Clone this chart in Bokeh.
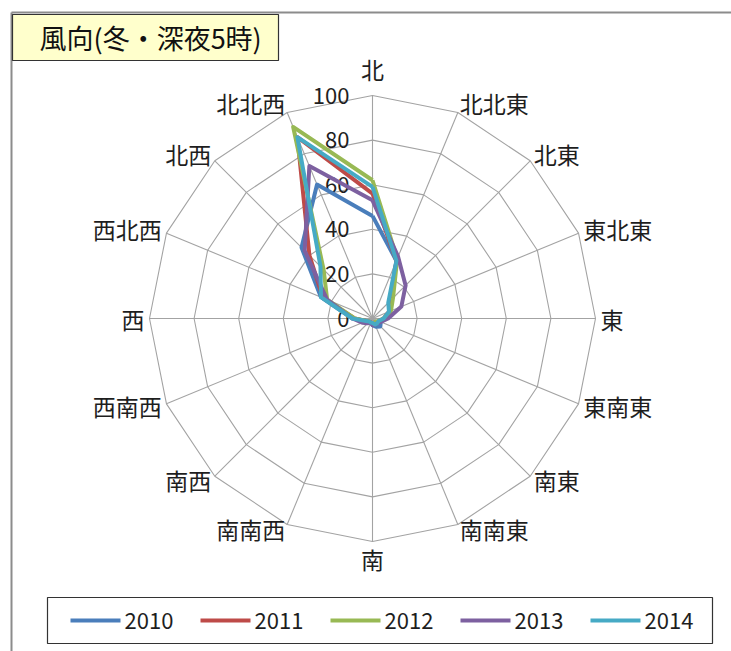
import math

from bokeh.core.properties import value
from bokeh.embed import file_html
from bokeh.models import Range1d
from bokeh.plotting import figure
from bokeh.resources import INLINE

# Wind direction frequency (winter, 5 a.m.), 16 compass points clockwise from north
directions = ["北", "北北東", "北東", "東北東", "東", "東南東", "南東", "南南東",
              "南", "南南西", "南西", "西南西", "西", "西北西", "北西", "北北西"]
years = ["2010", "2011", "2012", "2013", "2014"]
freq_2010 = [46, 28, 11, 8, 6, 4, 5, 4, 3, 2, 2, 3, 9, 25, 45, 65]
freq_2011 = [56, 28, 12, 8, 5, 3, 3, 2, 2, 2, 2, 3, 8, 24, 40, 88]
freq_2012 = [62, 29, 13, 9, 5, 3, 2, 2, 2, 2, 2, 3, 8, 22, 31, 93]
freq_2013 = [53, 30, 21, 14, 7, 4, 3, 3, 3, 2, 3, 5, 9, 22, 43, 74]
freq_2014 = [59, 28, 10, 8, 5, 3, 3, 3, 2, 2, 2, 3, 9, 25, 33, 88]
series = [freq_2010, freq_2011, freq_2012, freq_2013, freq_2014]
colors = ["#4A7EBB", "#BE4B48", "#98B954", "#7D60A0", "#46AAC5"]
ring_values = [0, 20, 40, 60, 80, 100]
title_text = "風向(冬・深夜5時)"

W, H = 731, 651
CX, CY = 372, 318          # pole position in pixels
K = 2.23                   # pixels per radial unit
FONT = value("Noto Sans CJK JP")
TEXT_COLOR = "#1E1E1E"


def X(px):
    return (px - CX) / K


def Y(py):
    return (CY - py) / K


n = len(directions)
angles = [2 * math.pi * i / n for i in range(n)]


def polar(r, a):
    return r * math.sin(a), r * math.cos(a)


p = figure(width=W, height=H, output_backend="svg", toolbar_location=None,
           x_axis_type=None, y_axis_type=None, min_border=0,
           x_range=Range1d(X(0), X(W)), y_range=Range1d(Y(H), Y(0)))
p.grid.visible = False
p.outline_line_color = None
p.background_fill_color = "white"
p.border_fill_color = "white"

# chart area border
p.line([X(11), X(W + 5)], [Y(12), Y(12)], line_color="#8C8C8C", line_width=2)
p.line([X(11), X(11)], [Y(12), Y(H + 5)], line_color="#8C8C8C", line_width=2)

# polygonal rings and spokes
for rv in ring_values[1:]:
    xs = [polar(rv, a)[0] for a in angles] + [polar(rv, angles[0])[0]]
    ys = [polar(rv, a)[1] for a in angles] + [polar(rv, angles[0])[1]]
    p.line(xs, ys, line_color="#A3A3A3", line_width=1.1)
for a in angles:
    ex, ey = polar(100, a)
    p.line([0, ex], [0, ey], line_color="#A3A3A3", line_width=1.1)

# radial value labels
p.text(x=[X(349)] * len(ring_values), y=ring_values,
       text=[str(v) for v in ring_values], text_font=FONT, text_font_size="22px",
       text_align="right", text_baseline="middle", text_color=TEXT_COLOR)

# compass labels
for d, a in zip(directions, angles):
    s, c = math.sin(a), math.cos(a)
    if abs(s) < 1e-6:
        r = 112 if c > 0 else 108
        x, y = 0, r * c
        align = "center"
    else:
        r = 228 / K
        x, y = r * s, r * c
        if c > 0:
            y += 5 * c / K
        align = "left" if s > 0 else "right"
    p.text(x=[x], y=[y], text=[d], text_font=FONT, text_font_size="23px",
           text_align=align, text_baseline="middle", text_color=TEXT_COLOR)

# data series
for vals, col in zip(series, colors):
    xs = [polar(v, a)[0] for v, a in zip(vals, angles)]
    ys = [polar(v, a)[1] for v, a in zip(vals, angles)]
    xs.append(xs[0])
    ys.append(ys[0])
    p.line(xs, ys, line_color=col, line_width=4, line_join="round")

# title box
p.quad(left=[X(12)], right=[X(278)], top=[Y(14)], bottom=[Y(60)],
       fill_color="#FFFFCC", line_color="#333333", line_width=1.2)
p.text(x=[X(39)], y=[Y(37)], text=[title_text], text_font=FONT,
       text_font_size="27px", text_align="left", text_baseline="middle",
       text_color="#111111")

# legend
p.quad(left=[X(47)], right=[X(712)], top=[Y(597)], bottom=[Y(643)],
       fill_color="white", line_color="#333333", line_width=1.2)
for i, (yr, col) in enumerate(zip(years, colors)):
    x0 = 70 + i * 130
    p.line([X(x0), X(x0 + 50)], [Y(620), Y(620)], line_color=col, line_width=4)
    p.text(x=[X(x0 + 54)], y=[Y(620)], text=[yr], text_font=FONT,
           text_font_size="22px", text_align="left", text_baseline="middle",
           text_color=TEXT_COLOR)

open("out.html", "w").write(file_html(p, INLINE))
